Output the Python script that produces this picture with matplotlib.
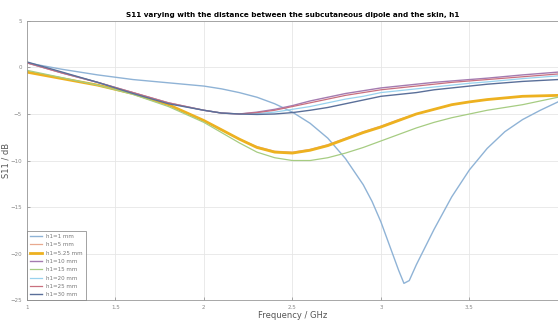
import matplotlib
matplotlib.use("Agg")
import matplotlib.pyplot as plt

# Frequency samples (GHz)
freq = [1.0, 1.2, 1.4, 1.6, 1.8, 2.0, 2.1, 2.2, 2.3, 2.4, 2.5, 2.6, 2.7, 2.8,
        2.9, 3.0, 3.1, 3.2, 3.3, 3.4, 3.5, 3.6, 3.8, 4.0]
# denser samples for the h1=1 mm curve with its deep notch
freq_h1 = [1.0, 1.2, 1.4, 1.6, 1.8, 2.0, 2.1, 2.2, 2.3, 2.4, 2.5, 2.6, 2.7, 2.8, 2.9,
           2.95, 3.0, 3.05, 3.1, 3.13, 3.16, 3.2, 3.25, 3.3, 3.4, 3.5, 3.6, 3.7,
           3.8, 3.9, 4.0]

labels = ['h1=1 mm', 'h1=5 mm', 'h1=5.25 mm', 'h1=10 mm',
          'h1=15 mm', 'h1=20 mm', 'h1=25 mm', 'h1=30 mm']

s11_h1 = [0.5, -0.2, -0.8, -1.3, -1.65, -2.0, -2.3, -2.7, -3.2, -3.9, -4.8, -6.0, -7.6,
          -9.8, -12.6, -14.4, -16.6, -19.2, -21.8, -23.2, -22.9, -21.2, -19.3, -17.4,
          -13.9, -11.0, -8.7, -6.9, -5.6, -4.6, -3.7]
s11_h5 = [-0.45, -1.15, -1.9, -2.8, -4.0, -5.7, -6.7, -7.7, -8.5, -9.0, -9.1, -8.8,
          -8.3, -7.6, -6.9, -6.3, -5.6, -5.0, -4.5, -4.0, -3.7, -3.45, -3.1, -3.0]
s11_h525 = [-0.5, -1.2, -1.9, -2.8, -4.0, -5.7, -6.7, -7.7, -8.6, -9.1, -9.2, -8.9,
            -8.4, -7.7, -7.0, -6.4, -5.7, -5.0, -4.5, -4.0, -3.7, -3.45, -3.1, -3.0]
s11_h10 = [0.5, -0.6, -1.6, -2.7, -3.8, -4.6, -4.9, -5.0, -4.8, -4.5, -4.1, -3.6,
           -3.2, -2.8, -2.5, -2.2, -2.0, -1.8, -1.6, -1.45, -1.3, -1.15, -0.8, -0.5]
s11_h15 = [-0.3, -1.1, -1.9, -2.9, -4.2, -5.9, -7.0, -8.1, -9.1, -9.7, -10.0, -10.0,
           -9.7, -9.2, -8.6, -7.9, -7.2, -6.5, -5.9, -5.4, -5.0, -4.6, -4.0, -3.2]
s11_h20 = [0.55, -0.55, -1.6, -2.75, -3.85, -4.6, -4.9, -5.0, -4.95, -4.8, -4.5, -4.2,
           -3.8, -3.4, -3.1, -2.7, -2.5, -2.3, -2.1, -1.9, -1.7, -1.55, -1.2, -0.9]
s11_h25 = [0.5, -0.6, -1.6, -2.7, -3.8, -4.6, -4.9, -5.0, -4.85, -4.6, -4.2, -3.8,
           -3.4, -3.0, -2.7, -2.4, -2.2, -2.0, -1.8, -1.6, -1.45, -1.3, -1.0, -0.7]
s11_h30 = [0.6, -0.5, -1.6, -2.8, -3.9, -4.6, -4.9, -5.0, -5.05, -5.0, -4.85, -4.6,
           -4.3, -3.9, -3.5, -3.1, -2.9, -2.7, -2.4, -2.2, -2.0, -1.8, -1.5, -1.3]

series = [(freq_h1, s11_h1), (freq, s11_h5), (freq, s11_h525), (freq, s11_h10),
          (freq, s11_h15), (freq, s11_h20), (freq, s11_h25), (freq, s11_h30)]
colors = ['#8fb3d6', '#e8a98f', '#edb120', '#a47bb0', '#a6cc82', '#98d2ee', '#c9707f', '#5a6f99']
widths = [1.0, 0.9, 2.0, 1.0, 0.9, 0.9, 0.9, 1.0]

fig = plt.figure(figsize=(5.58, 3.22), dpi=100)
ax = fig.add_axes([0.048, 0.068, 0.952, 0.867])

for (x, y), lab, c, lw in zip(series, labels, colors, widths):
    ax.plot(x, y, color=c, linewidth=lw, label=lab)

ax.set_xlim(1, 4)
ax.set_ylim(-25, 5)
ax.set_xticks([1, 1.5, 2, 2.5, 3, 3.5, 4])
ax.set_xticklabels(['1', '1.5', '2', '2.5', '3', '3.5', ''])
ax.set_yticks([-25, -20, -15, -10, -5, 0, 5])
ax.tick_params(direction='in', labelsize=4, colors='#888888', length=2, width=0.5)
ax.grid(True, color='#e6e6e6', linewidth=0.6)
for sp in ax.spines.values():
    sp.set_color('#999999')
    sp.set_linewidth(0.6)

ax.set_title('S11 varying with the distance between the subcutaneous dipole and the skin, h1',
             fontsize=5.2, fontweight='bold', pad=3)
ax.set_xlabel('Frequency / GHz', fontsize=6, color='#555555', labelpad=1)
ax.set_ylabel('S11 / dB', fontsize=6, color='#555555', labelpad=1)
ax.yaxis.set_label_coords(-0.03, 0.5)

leg = ax.legend(loc='lower left', fontsize=4, frameon=True, fancybox=False,
                handlelength=2.2, borderpad=0.5, labelspacing=0.6,
                borderaxespad=0)
leg.get_frame().set_edgecolor('#777777')
leg.get_frame().set_linewidth(0.6)
for t in leg.get_texts():
    t.set_color('#777777')

fig.savefig('out.png', dpi=100)
